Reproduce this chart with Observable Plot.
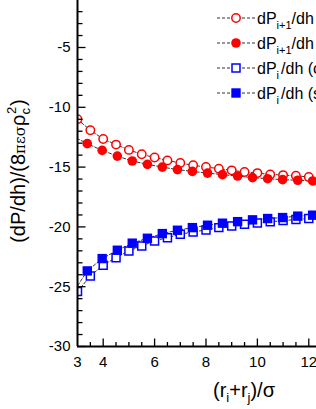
<!DOCTYPE html>
<html><head><meta charset="utf-8">
<script src="https://cdn.jsdelivr.net/npm/d3@7"></script>
<script src="https://cdn.jsdelivr.net/npm/@observablehq/plot@0.6"></script>
<style>
html,body{margin:0;padding:0;background:#fff;width:316px;height:409px;overflow:hidden;}
#chart{position:relative;width:316px;height:409px;overflow:hidden;}
</style></head><body><div id="chart"></div>
<script>
// x positions of the open-marker series and the filled-marker series
const xOpen = [3,3.5,4,4.5,5,5.5,6,6.5,7,7.5,8,8.5,9,9.5,10,10.5,11,11.5,12];
const xFilled = [2.8,3.38,3.96,4.55,5.13,5.72,6.3,6.89,7.47,8.06,8.64,9.23,9.81,10.4,10.98,11.57,12.15];
// values
const yOpenCircles = [-11.0,-11.92,-12.65,-13.12,-13.56,-13.93,-14.2,-14.44,-14.66,-14.85,-14.99,-15.13,-15.27,-15.41,-15.5,-15.61,-15.67,-15.72,-15.83];
const yFilledCircles = [-12.39,-13.04,-13.6,-14.08,-14.49,-14.77,-15.0,-15.21,-15.36,-15.5,-15.63,-15.75,-15.88,-15.97,-16.05,-16.1,-16.16];
const yOpenSquares = [-25.41,-24.1,-23.2,-22.57,-22.01,-21.59,-21.17,-20.9,-20.61,-20.42,-20.25,-20.06,-19.92,-19.78,-19.67,-19.58,-19.47,-19.39,-19.3];
const yFilledSquares = [-25.6,-23.68,-22.65,-21.95,-21.36,-20.95,-20.56,-20.28,-20.06,-19.86,-19.69,-19.56,-19.41,-19.3,-19.22,-19.1,-19.02];
// ticks
const yTicks = [-30,-25,-20,-15,-10,-5];
const yMinorTicks = [-29,-28,-27,-26,-24,-23,-22,-21,-19,-18,-17,-16,-14,-13,-12,-11,-9,-8,-7,-6,-4,-3,-2];
const xTicks = [3,4,6,8,10,12];
const xMajorTicks = [4,6,8,10,12];
const xMinorTicks = [3.5,4.5,5,5.5,6.5,7,7.5,8.5,9,9.5,10.5,11,11.5];
// legend
const legendMain = ["dP","dP","dP","dP"];
const legendSub = ["i+1","i+1","i","i"];
const legendRest = ["/dh (calc.)","/dh (sim.)","/dh (calc.)","/dh (sim.)"];
const legendKind = ["openCircle","filledCircle","openSquare","filledSquare"];

const FONT = "'Liberation Sans', Arial, Helvetica, sans-serif";
const mk = (xs, ys) => xs.map((x, i) => ({x, y: ys[i]}));
const A = mk(xOpen, yOpenCircles), B = mk(xFilled, yFilledCircles);
const C = mk(xOpen, yOpenSquares), D = mk(xFilled, yFilledSquares);

const tickSym = (dx, dy) => ({draw(ctx) { ctx.moveTo(0, 0); ctx.lineTo(dx, dy); }});
const dash = {stroke: "#333", strokeWidth: 1, strokeDasharray: "3,2", clip: true};

const chart = Plot.plot({
  width: 316, height: 409,
  marginLeft: 77, marginRight: 0, marginTop: 0, marginBottom: 63,
  x: {domain: [3, 12.3]},
  y: {domain: [-30, -1.07]},
  style: {fontFamily: FONT, fontSize: "15px", background: "white", color: "black"},
  marks: [
    Plot.line(A, {x: "x", y: "y", ...dash}),
    Plot.line(B, {x: "x", y: "y", ...dash}),
    Plot.line(C, {x: "x", y: "y", ...dash}),
    Plot.line(D, {x: "x", y: "y", ...dash}),
    Plot.dot(A, {x: "x", y: "y", r: 4.2, stroke: "#ff0000", strokeWidth: 1.5, fill: "white", clip: true}),
    Plot.dot(B, {x: "x", y: "y", r: 4.8, fill: "#ff0000", stroke: "none", clip: true}),
    Plot.dot(C, {x: "x", y: "y", symbol: "square", r: 4.5, stroke: "#0000ff", strokeWidth: 1.5, fill: "white", clip: true}),
    Plot.dot(D, {x: "x", y: "y", symbol: "square", r: 5.3, fill: "#0000ff", stroke: "none", clip: true}),
    Plot.ruleX([3], {stroke: "black", strokeWidth: 2}),
    Plot.ruleY([-30], {stroke: "black", strokeWidth: 2}),
    Plot.dot(yMinorTicks, {y: d => d, frameAnchor: "left", symbol: tickSym(5, 0), stroke: "black", strokeWidth: 1.3, fill: "none"}),
    Plot.dot(yTicks, {y: d => d, frameAnchor: "left", symbol: tickSym(8, 0), stroke: "black", strokeWidth: 1.3, fill: "none"}),
    Plot.dot(xMinorTicks, {x: d => d, frameAnchor: "bottom", symbol: tickSym(0, -4.5), stroke: "black", strokeWidth: 1.3, fill: "none"}),
    Plot.dot(xMajorTicks, {x: d => d, frameAnchor: "bottom", symbol: tickSym(0, -8), stroke: "black", strokeWidth: 1.3, fill: "none"}),
    Plot.axisY({ticks: yTicks, tickSize: 0, tickPadding: 7, tickFormat: d => String(d), label: null, fontSize: 15}),
    Plot.axisX({ticks: xTicks, tickSize: 0, tickPadding: 10, tickFormat: d => String(d), label: null, fontSize: 15})
  ]
});
document.getElementById("chart").appendChild(chart);

const svg = d3.select(chart);
// y title
const yt = svg.append("text")
  .attr("transform", "translate(25,171) rotate(-90)")
  .attr("text-anchor", "middle")
  .attr("font-family", FONT).attr("font-size", 20).attr("fill", "black");
yt.append("tspan").text("(dP/dh)/(8");
yt.append("tspan").attr("font-family", "'DejaVu Serif', serif").attr("font-size", 15).text("πεσ");
yt.append("tspan").text("ρ");
yt.append("tspan").attr("font-size", 13).attr("dy", 5).text("c");
yt.append("tspan").attr("font-size", 13).attr("dy", -14).attr("dx", -6).text("2");
yt.append("tspan").attr("dy", 9).attr("dx", 1).text(")");

// x title
const xt = svg.append("text")
  .attr("x", 244).attr("y", 397)
  .attr("text-anchor", "middle")
  .attr("font-family", FONT).attr("font-size", 20).attr("fill", "black");
xt.append("tspan").text("(r");
xt.append("tspan").attr("font-size", 13).attr("dy", 5).text("i");
xt.append("tspan").attr("dy", -5).text("+r");
xt.append("tspan").attr("font-size", 13).attr("dy", 5).text("j");
xt.append("tspan").attr("dy", -5).text(")/σ");

// legend
const lg = svg.append("g").attr("font-family", FONT).attr("font-size", 16).attr("text-anchor", "start");
legendKind.forEach((kind, i) => {
  const cy = 18 + 25 * i;
  const g = lg.append("g").attr("transform", `translate(0,${cy})`);
  g.append("line").attr("x1", 217).attr("x2", 255).attr("y1", 0).attr("y2", 0)
    .attr("stroke", "#333").attr("stroke-width", 1).attr("stroke-dasharray", "3,2");
  const color = kind.includes("Circle") ? "#ff0000" : "#0000ff";
  const open = kind.startsWith("open");
  if (kind.includes("Circle")) {
    g.append("circle").attr("cx", 236).attr("cy", 0).attr("r", open ? 4.2 : 4.8)
      .attr("fill", open ? "white" : color).attr("stroke", open ? color : "none").attr("stroke-width", 1.5);
  } else {
    const s = open ? 8 : 9.4;
    g.append("rect").attr("x", 236 - s / 2).attr("y", -s / 2).attr("width", s).attr("height", s)
      .attr("fill", open ? "white" : color).attr("stroke", open ? color : "none").attr("stroke-width", 1.5);
  }
  const t = g.append("text").attr("x", 257).attr("y", 6).attr("fill", "black").attr("text-anchor", "start");
  t.append("tspan").text(legendMain[i]);
  t.append("tspan").attr("font-size", 11).attr("dy", 5).text(legendSub[i]);
  t.append("tspan").attr("dy", -5).attr("dx", legendSub[i].length === 1 ? 2 : 0).text(legendRest[i]);
});
</script></body></html>
